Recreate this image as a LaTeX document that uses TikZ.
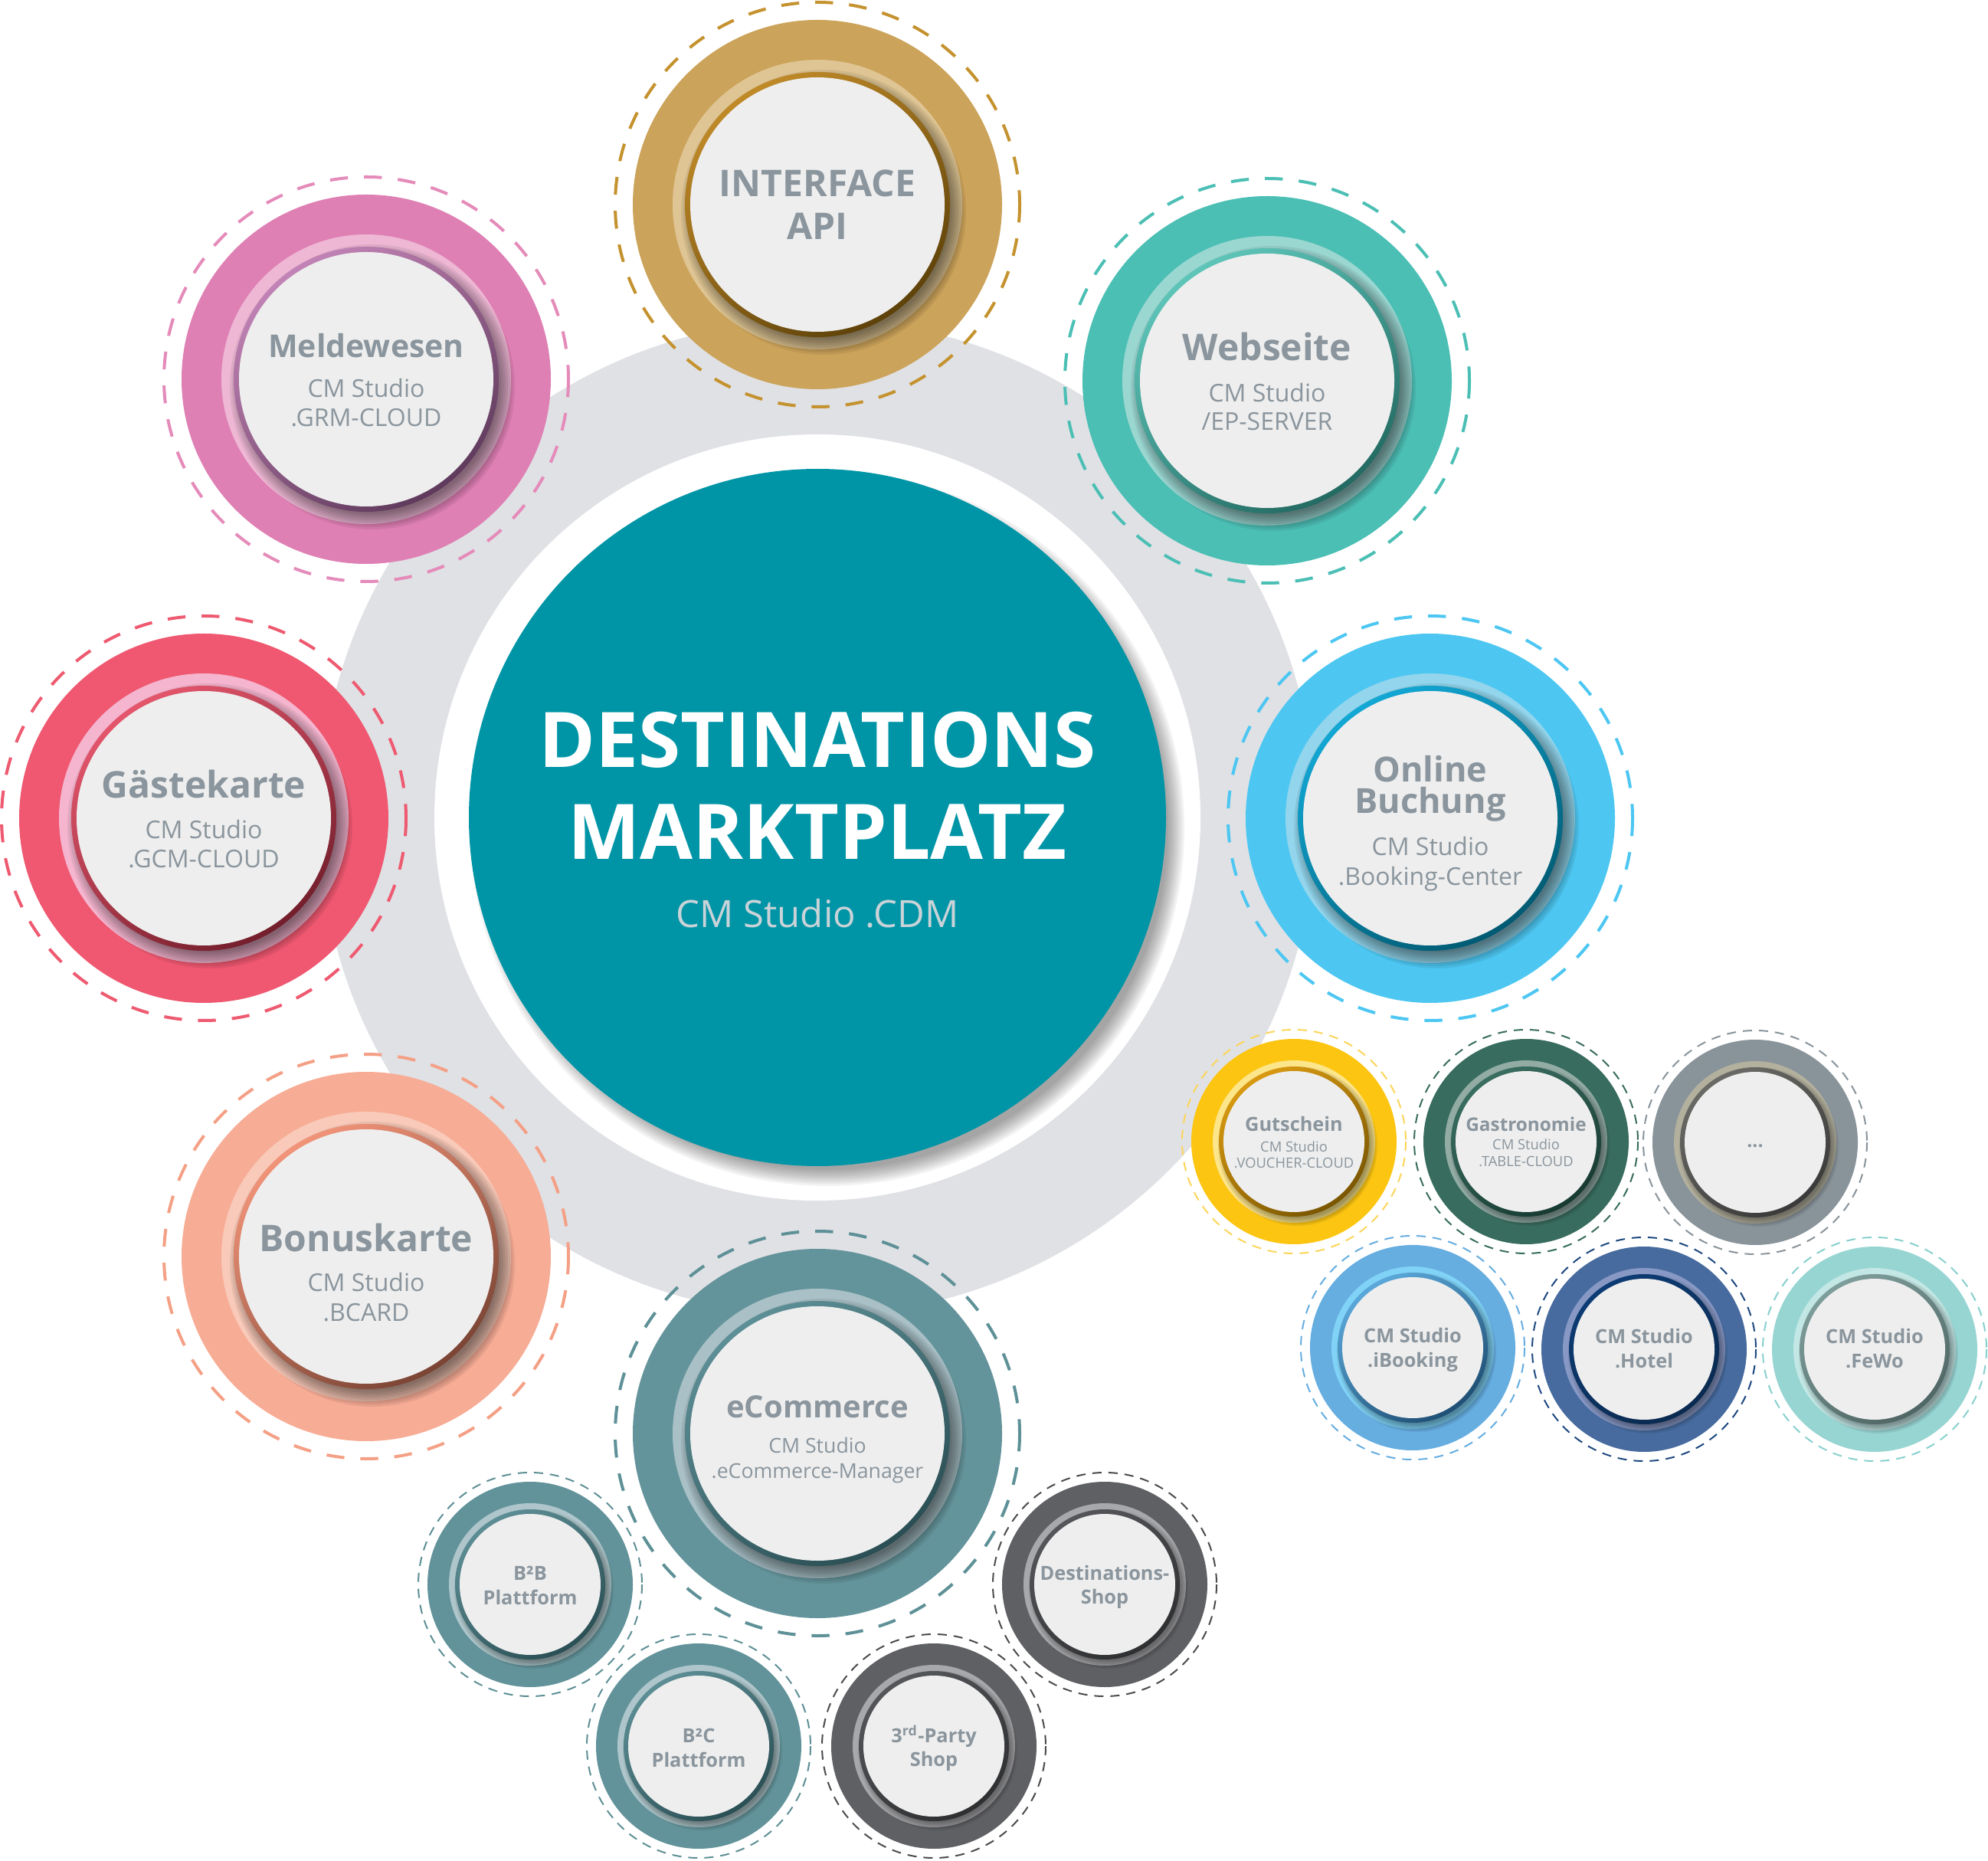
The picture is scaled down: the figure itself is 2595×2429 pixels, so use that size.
\documentclass[tikz,border=0pt]{standalone}
\usepackage{fontspec}
\setmainfont{Open Sans}
\usepackage{tikz}
\usepackage{xcolor}
\usetikzlibrary{calc}
\usetikzlibrary{positioning}

\definecolor{hubgray}{HTML}{E0E1E5}
\definecolor{hubteal}{HTML}{0095A6}
\definecolor{hubsub}{HTML}{C9D3D8}
\definecolor{txtgray}{HTML}{8A959D}
\definecolor{discgray}{HTML}{EEEEEE}

\definecolor{ifaceMain}{HTML}{CCA35A}\definecolor{ifaceLight}{HTML}{DFC594}
\definecolor{ifaceRim}{HTML}{C08A28}\definecolor{ifaceDark}{HTML}{5E420A}\definecolor{ifaceDash}{HTML}{C4922E}
\definecolor{meldeMain}{HTML}{DF80B4}\definecolor{meldeLight}{HTML}{EEB7D4}
\definecolor{meldeRim}{HTML}{C283B6}\definecolor{meldeDark}{HTML}{5F3A5C}\definecolor{meldeDash}{HTML}{E48BBA}
\definecolor{webMain}{HTML}{4CBFB5}\definecolor{webLight}{HTML}{9BD7D1}
\definecolor{webRim}{HTML}{5EC5B9}\definecolor{webDark}{HTML}{236A62}\definecolor{webDash}{HTML}{4CBFB5}
\definecolor{gastMain}{HTML}{EF5870}\definecolor{gastLight}{HTML}{F5B5CF}
\definecolor{gastRim}{HTML}{E4566C}\definecolor{gastDark}{HTML}{731E2C}\definecolor{gastDash}{HTML}{EE5A70}
\definecolor{onlineMain}{HTML}{4DC7F2}\definecolor{onlineLight}{HTML}{92D5EC}
\definecolor{onlineRim}{HTML}{13A8D5}\definecolor{onlineDark}{HTML}{005A72}\definecolor{onlineDash}{HTML}{4DC7F2}
\definecolor{bonusMain}{HTML}{F7AC95}\definecolor{bonusLight}{HTML}{F9CAB9}
\definecolor{bonusRim}{HTML}{F19479}\definecolor{bonusDark}{HTML}{7A4434}\definecolor{bonusDash}{HTML}{F4A086}
\definecolor{ecomMain}{HTML}{64949B}\definecolor{ecomLight}{HTML}{A8C0C6}
\definecolor{ecomRim}{HTML}{5D8F96}\definecolor{ecomDark}{HTML}{2A4E54}\definecolor{ecomDash}{HTML}{5E9197}

\definecolor{gutMain}{HTML}{FCC512}\definecolor{gutLight}{HTML}{FDE58A}
\definecolor{gutRim}{HTML}{D99A12}\definecolor{gutDark}{HTML}{7A5600}\definecolor{gutDash}{HTML}{FCD55A}
\definecolor{gastroMain}{HTML}{386C5E}\definecolor{gastroLight}{HTML}{92ACA4}
\definecolor{gastroRim}{HTML}{3A6E60}\definecolor{gastroDark}{HTML}{173A31}\definecolor{gastroDash}{HTML}{386C5E}
\definecolor{moreMain}{HTML}{88939A}\definecolor{moreLight}{HTML}{B3B09E}
\definecolor{moreRim}{HTML}{6A6A66}\definecolor{moreDark}{HTML}{3A3A3A}\definecolor{moreDash}{HTML}{88939A}
\definecolor{ibookMain}{HTML}{66ADE0}\definecolor{ibookLight}{HTML}{80D2F6}
\definecolor{ibookRim}{HTML}{5AA8DA}\definecolor{ibookDark}{HTML}{1F4F74}\definecolor{ibookDash}{HTML}{66ADE0}
\definecolor{hotelMain}{HTML}{476B9F}\definecolor{hotelLight}{HTML}{8898C5}
\definecolor{hotelRim}{HTML}{0D3C74}\definecolor{hotelDark}{HTML}{0A2A50}\definecolor{hotelDash}{HTML}{1E4880}
\definecolor{fewoMain}{HTML}{97D5D3}\definecolor{fewoLight}{HTML}{C3E7E4}
\definecolor{fewoRim}{HTML}{7E9E9C}\definecolor{fewoDark}{HTML}{4F6664}\definecolor{fewoDash}{HTML}{88D0CE}
\definecolor{plattMain}{HTML}{62939A}\definecolor{plattLight}{HTML}{AEC6CB}
\definecolor{plattRim}{HTML}{5D8E95}\definecolor{plattDark}{HTML}{2A4F55}\definecolor{plattDash}{HTML}{5E8F95}
\definecolor{shopMain}{HTML}{5F6064}\definecolor{shopLight}{HTML}{A7A8AB}
\definecolor{shopRim}{HTML}{555659}\definecolor{shopDark}{HTML}{2E2F31}\definecolor{shopDash}{HTML}{4A4B4E}

\tikzset{
  lbl/.style={align=center, text=txtgray, inner sep=0pt},
  disc/.style={fill=discgray},
}

% #1 colour prefix, #2 x, #3 y
\newcommand{\ringbig}[3]{%
  \draw[#1Dash, line width=1.2pt, dash pattern=on 7pt off 6.3pt] (#2,#3) circle [radius=264];
  \fill[#1Main] (#2,#3) circle [radius=241];
  \fill[#1Light] (#2,#3) circle [radius=189];
  \foreach \k in {0,...,7}
    \fill[black, opacity=0.07] (#2+8,#3+10) circle [radius=186-\k*3];
  \shade[top color=#1Rim, bottom color=#1Dark, shading angle=35] (#2,#3) circle [radius=173];
  \fill[disc] (#2,#3) circle [radius=166];
}
\newcommand{\ringsmall}[3]{%
  \draw[#1Dash, line width=0.6pt, dash pattern=on 3.6pt off 2.7pt] (#2,#3) circle [radius=146];
  \fill[#1Main] (#2,#3) circle [radius=134];
  \fill[#1Light] (#2,#3) circle [radius=106];
  \foreach \k in {0,...,5}
    \fill[black, opacity=0.07] (#2+5,#3+6) circle [radius=104-\k*2];
  \shade[top color=#1Rim, bottom color=#1Dark, shading angle=35] (#2,#3) circle [radius=98];
  \fill[disc] (#2,#3) circle [radius=92];
}

\begin{document}
\begin{tikzpicture}[x=0.3pt, y=-0.3pt]
\useasboundingbox (0,0) rectangle (2595,2429);

% hub
\fill[hubgray] (1067,1067) circle [radius=650];
\fill[white] (1067,1067) circle [radius=500];
\foreach \k in {0,...,7}
  \fill[black, opacity=0.05] (1080,1082) circle [radius=466-\k*3];
\fill[hubteal] (1067,1067) circle [radius=455];
\node[align=center, text=white, inner sep=0pt, font=\fontsize{30}{26.7}\selectfont\bfseries] (cdm) at (1067,1070)
  {DESTINATIONS\\[9.3pt]MARKTPLATZ\\{\color{hubsub}\mdseries\fontsize{14.7}{14.7}\selectfont CM Studio .CDM}};

% big satellites
\ringbig{iface}{1067}{267}
\ringbig{melde}{478}{495}
\ringbig{web}{1654}{497}
\ringbig{gast}{266}{1068}
\ringbig{online}{1867}{1068}
\ringbig{bonus}{478}{1640}
\ringbig{ecom}{1067}{1871}

\node[lbl, font=\fontsize{14.4}{16.8}\selectfont\bfseries] (iface) at (1067,267) {INTERFACE\\API};
\node[lbl, font=\fontsize{9.6}{11.4}\selectfont] (melde) at (478,496)
  {{\bfseries\fontsize{12.3}{12.3}\selectfont Meldewesen}\\[4.2pt]CM Studio\\.GRM-CLOUD};
\node[lbl, font=\fontsize{9.6}{11.3}\selectfont] (web) at (1654,498)
  {{\bfseries\fontsize{14.4}{14.4}\selectfont Webseite}\\[4.8pt]CM Studio\\/EP-SERVER};
\node[lbl, font=\fontsize{9.6}{11.4}\selectfont] (gast) at (266,1069)
  {{\bfseries\fontsize{14.4}{14.4}\selectfont Gästekarte}\\[4.5pt]CM Studio\\.GCM-CLOUD};
\node[lbl, font=\fontsize{9.6}{11.9}\selectfont] (online) at (1867,1075)
  {{\bfseries\fontsize{13.5}{13.5}\selectfont Online}\\[0.4pt]{\bfseries\fontsize{13.5}{13.5}\selectfont Buchung}\\[4.4pt]CM Studio\\.Booking-Center};
\node[lbl, font=\fontsize{9.6}{11.6}\selectfont] (bonus) at (478,1661)
  {{\bfseries\fontsize{14.4}{14.4}\selectfont Bonuskarte}\\[4pt]CM Studio\\.BCARD};
\node[lbl, font=\fontsize{8}{9.8}\selectfont] (ecom) at (1067,1879)
  {{\bfseries\fontsize{12}{12}\selectfont eCommerce}\\[4pt]CM Studio\\.eCommerce-Manager};

% small satellites
\ringsmall{gut}{1689}{1490}
\ringsmall{gastro}{1992}{1490}
\ringsmall{more}{2291}{1491}
\ringsmall{ibook}{1844}{1759}
\ringsmall{hotel}{2146}{1761}
\ringsmall{fewo}{2447}{1761}
\ringsmall{platt}{692}{2068}
\ringsmall{platt}{912}{2279}
\ringsmall{shop}{1219}{2279}
\ringsmall{shop}{1442}{2068}

\node[lbl, font=\fontsize{5.5}{6.3}\selectfont] (gut) at (1689,1491)
  {{\bfseries\fontsize{7.6}{7.6}\selectfont Gutschein}\\[2pt]CM Studio\\.VOUCHER-CLOUD};
\node[lbl, font=\fontsize{5.5}{6.4}\selectfont] (gastro) at (1992,1490)
  {{\bfseries\fontsize{7.3}{7.3}\selectfont Gastronomie}\\[1pt]CM Studio\\.TABLE-CLOUD};
\node[lbl, font=\fontsize{7.5}{9.6}\selectfont\bfseries] (more) at (2291,1496) {...};
\node[lbl, font=\fontsize{7.6}{9.6}\selectfont\bfseries] (ibook) at (1844,1762) {CM Studio\\.iBooking};
\node[lbl, font=\fontsize{7.6}{9.6}\selectfont\bfseries] (hotel) at (2146,1760) {CM Studio\\.Hotel};
\node[lbl, font=\fontsize{7.6}{9.6}\selectfont\bfseries] (fewo) at (2447,1760) {CM Studio\\.FeWo};
\node[lbl, font=\fontsize{7.6}{9.6}\selectfont\bfseries] (btob) at (692,2069) {B²B\\Plattform};
\node[lbl, font=\fontsize{7.6}{9.6}\selectfont\bfseries] (btoc) at (912,2281) {B²C\\Plattform};
\node[lbl, font=\fontsize{7.6}{9.3}\selectfont\bfseries] (party) at (1219,2282) {3\textsuperscript{rd}-Party\\Shop};
\node[lbl, font=\fontsize{7.6}{9.3}\selectfont\bfseries] (dshop) at (1442,2071) {Destinations-\\Shop};

\end{tikzpicture}
\end{document}
